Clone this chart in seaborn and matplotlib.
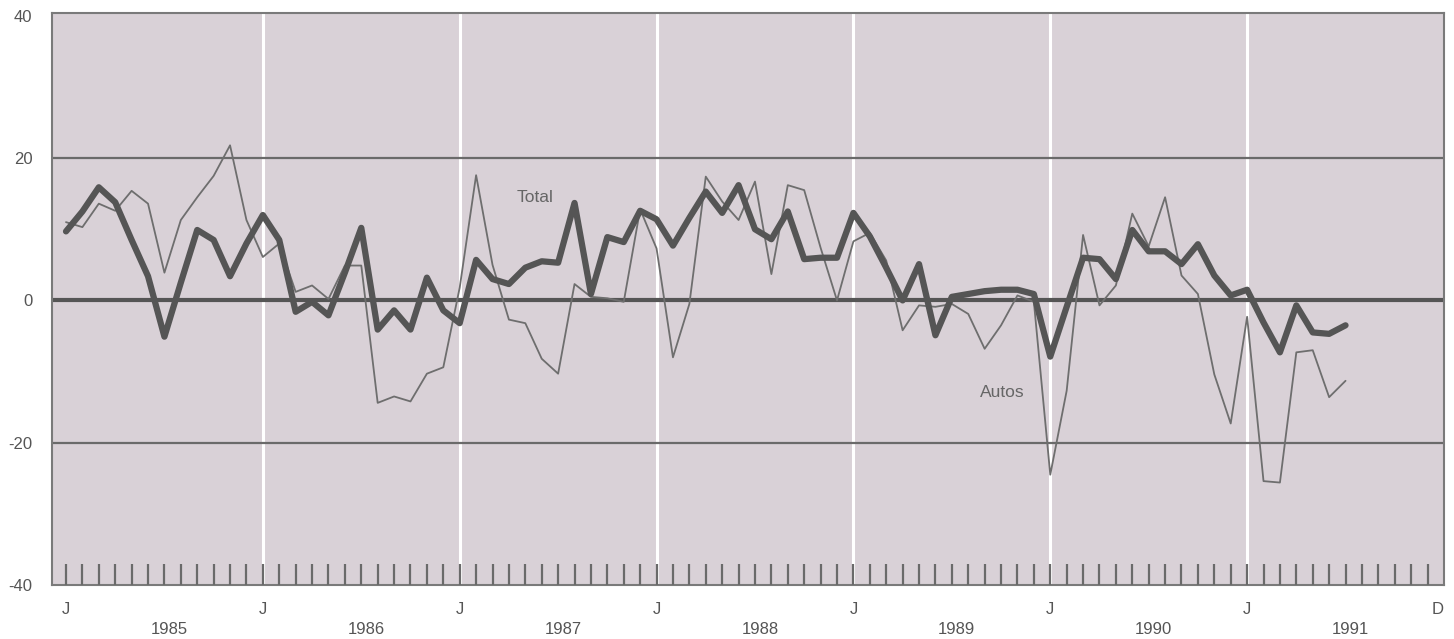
"""
Monthly percent change: Total vs Autos, 1985-1991.
"""

import numpy as np
import pandas as pd
import matplotlib
matplotlib.use("Agg")
import matplotlib.pyplot as plt
import matplotlib.transforms as mtransforms
import seaborn as sns

# ============================================================
# Data (monthly, starting January 1985)
# ============================================================
total = [
    9.7, 12.5, 15.9, 13.8, 8.5, 3.4, -5.1, 2.5, 9.9, 8.5, 3.4, 8.0,
    12.0, 8.5, -1.6, -0.2, -2.1, 3.9, 10.2, -4.1, -1.4, -4.1, 3.2, -1.4,
    -3.2, 5.7, 3.0, 2.3, 4.6, 5.5, 5.3, 13.7, 0.9, 8.9, 8.2, 12.6,
    11.4, 7.7, 11.6, 15.3, 12.3, 16.2, 10.0, 8.6, 12.5, 5.8, 6.0, 6.0,
    12.3, 9.0, 4.6, 0.0, 5.1, -4.9, 0.5, 0.9, 1.3, 1.5, 1.5, 0.9,
    -7.9, -0.9, 6.0, 5.8, 3.0, 9.9, 6.9, 6.9, 5.1, 7.9, 3.5, 0.7,
    1.5, -3.1, -7.3, -0.7, -4.5, -4.7, -3.5,
]
autos = [
    11.0, 10.3, 13.6, 12.6, 15.4, 13.6, 3.9, 11.3, 14.5, 17.5, 21.8, 11.3,
    6.1, 8.0, 1.2, 2.1, 0.2, 4.9, 4.9, -14.4, -13.5, -14.2, -10.3, -9.4,
    1.8, 17.6, 5.0, -2.7, -3.2, -8.2, -10.3, 2.3, 0.5, 0.3, -0.2, 12.8,
    7.3, -8.0, -0.5, 17.4, 13.9, 11.3, 16.7, 3.7, 16.2, 15.5, 7.4, 0.0,
    8.3, 9.5, 5.6, -4.2, -0.7, -0.9, -0.5, -1.9, -6.8, -3.5, 0.7, -0.2,
    -24.5, -12.7, 9.2, -0.7, 2.1, 12.2, 7.6, 14.5, 3.5, 0.9, -10.4, -17.3,
    -2.3, -25.4, -25.6, -7.3, -7.0, -13.6, -11.3,
]
years = ["1985", "1986", "1987", "1988", "1989", "1990", "1991"]
y_ticks = [-40, -20, 0, 20, 40]
grid_levels = [-20, 20]

months = np.arange(len(total))
df = pd.DataFrame({"month": months, "Total": total, "Autos": autos})

# ============================================================
# Figure
# ============================================================
sns.set_style("white")
plt.rcParams["font.family"] = ["Liberation Sans", "DejaVu Sans"]

bg = "#d9d1d7"
line_col = "#555555"
text_col = "#555555"

fig = plt.figure(figsize=(14.54, 6.39), dpi=100)
ax = fig.add_axes([0.0358, 0.0845, 0.9573, 0.8952])
ax.set_facecolor(bg)
ax.set_axisbelow(False)

n_months = 12 * len(years)
ax.set_xlim(-0.85, n_months)
ax.set_ylim(-40, 40.4)

# white year separators
for k in range(1, len(years)):
    ax.axvline(12 * k, color="white", linewidth=2.2, zorder=1)

# horizontal reference lines
for lvl in grid_levels:
    ax.axhline(lvl, color="#6a6a6a", linewidth=1.6, zorder=2)
ax.axhline(0, color="#555555", linewidth=3.0, zorder=2)

sns.lineplot(data=df, x="month", y="Autos", ax=ax, color="#6e6e6e",
             linewidth=1.3, zorder=3)
sns.lineplot(data=df, x="month", y="Total", ax=ax, color=line_col,
             linewidth=4.5, zorder=4)

ax.text(28.6, 14.5, "Total", fontsize=12.5, color="#666666", ha="center",
        va="center", zorder=5)
ax.text(57.1, -13.0, "Autos", fontsize=12.5, color="#666666", ha="center",
        va="center", zorder=5)

# axes styling
for side in ["top", "bottom", "left", "right"]:
    ax.spines[side].set_color("#7a7a7a")
    ax.spines[side].set_linewidth(1.5)

ax.set_yticks(y_ticks)
ax.set_yticklabels([str(v) for v in y_ticks], fontsize=12, color=text_col)
ax.tick_params(axis="y", left=False, length=0, pad=14)

ax.set_xticks(np.arange(n_months))
ax.set_xticklabels([])
ax.tick_params(axis="x", bottom=True, direction="in", length=15, width=1.6,
               color="#6a6a6a")
ax.set_xlabel("")
ax.set_ylabel("")

# month / year labels below the axis
trans = mtransforms.blended_transform_factory(ax.transData, ax.transAxes)
for k, yr in enumerate(years):
    ax.text(12 * k, -0.042, "J", transform=trans, fontsize=12,
            color=text_col, ha="center", va="center")
    ax.text(12 * k + 6.3, -0.078, yr, transform=trans, fontsize=12,
            color=text_col, ha="center", va="center")
ax.text(n_months - 0.4, -0.042, "D", transform=trans, fontsize=12,
        color=text_col, ha="center", va="center")

fig.savefig("out.png", dpi=100)
plt.close()
